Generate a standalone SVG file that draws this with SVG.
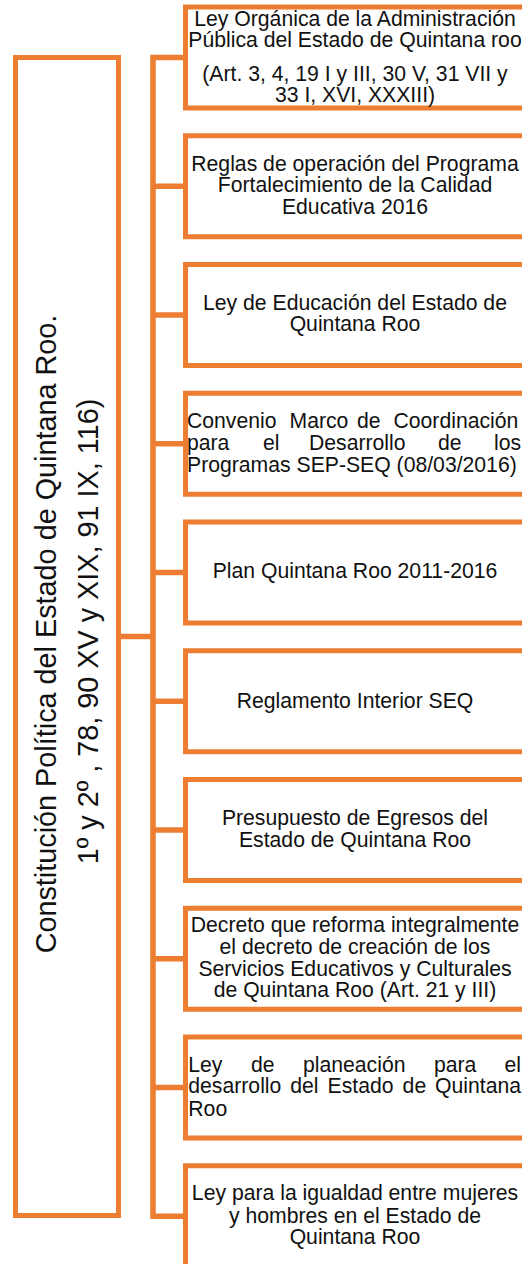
<svg xmlns="http://www.w3.org/2000/svg" width="522" height="1264" viewBox="0 0 522 1264">
<style>
.box{fill:#fff;stroke:#ED7D31;stroke-width:5}
.conn{fill:none;stroke:#ED7D31;stroke-width:5.5;stroke-linejoin:miter}
.t{font-family:"Liberation Sans",Arial,sans-serif;font-size:21.2px;fill:#111}
.c{text-anchor:middle}
.big{font-family:"Liberation Sans",Arial,sans-serif;font-size:28.8px;fill:#111;text-anchor:middle}
</style>
<rect width="522" height="1264" fill="#fff"/>
<g id="connectors">
<path class="conn" d="M121 636.5H153M185 57.5H153V1216.25H185M153 186.25H185M153 315H185M153 443.75H185M153 572.5H185M153 701.25H185M153 830H185M153 958.75H185M153 1087.5H185"/>
</g>
<g id="root">
<rect class="box" x="15.5" y="57.5" width="103" height="1158"/>
<text class="big" transform="translate(55.5,634) rotate(-90)">Constitución Política del Estado de Quintana Roo.</text>
<text class="big" transform="translate(98,631.5) rotate(-90)">1º y 2º , 78, 90 XV y XIX, 91 IX, 116)</text>
</g>
<g id="n1">
<rect class="box" x="185.5" y="7" width="345" height="101"/>
<text class="t c" x="355" y="26.3">Ley Orgánica de la Administración</text>
<text class="t c" x="355" y="47.3">Pública del Estado de Quintana roo</text>
<text class="t c" x="355" y="80.5">(Art. 3, 4, 19 I y III, 30 V, 31 VII y</text>
<text class="t c" x="355" y="102">33 I, XVI, XXXIII)</text>
</g>
<g id="n2">
<rect class="box" x="185.5" y="135.75" width="345" height="101"/>
<text class="t c" x="355" y="170.7">Reglas de operación del Programa</text>
<text class="t c" x="355" y="192.3">Fortalecimiento de la Calidad</text>
<text class="t c" x="355" y="214">Educativa 2016</text>
</g>
<g id="n3">
<rect class="box" x="185.5" y="264.5" width="345" height="101"/>
<text class="t c" x="355" y="310">Ley de Educación del Estado de</text>
<text class="t c" x="355" y="331">Quintana Roo</text>
</g>
<g id="n4">
<rect class="box" x="185.5" y="393.25" width="345" height="101"/>
<text class="t" y="427.7"><tspan x="187">Convenio</tspan><tspan x="289.5">Marco</tspan><tspan x="357">de</tspan><tspan x="393.5">Coordinación</tspan></text>
<text class="t" y="450"><tspan x="187">para</tspan><tspan x="263">el</tspan><tspan x="309">Desarrollo</tspan><tspan x="438">de</tspan><tspan x="494">los</tspan></text>
<text class="t" x="187" y="471.7">Programas SEP-SEQ (08/03/2016)</text>
</g>
<g id="n5">
<rect class="box" x="185.5" y="522" width="345" height="101"/>
<text class="t c" x="355" y="578.3">Plan Quintana Roo 2011-2016</text>
</g>
<g id="n6">
<rect class="box" x="185.5" y="650.75" width="345" height="101"/>
<text class="t c" x="355" y="708.3">Reglamento Interior SEQ</text>
</g>
<g id="n7">
<rect class="box" x="185.5" y="779.5" width="345" height="101"/>
<text class="t c" x="355" y="825">Presupuesto de Egresos del</text>
<text class="t c" x="355" y="846.7">Estado de Quintana Roo</text>
</g>
<g id="n8">
<rect class="box" x="185.5" y="908.25" width="345" height="101"/>
<text class="t c" x="355" y="932">Decreto que reforma integralmente</text>
<text class="t c" x="355" y="953.7">el decreto de creación de los</text>
<text class="t c" x="355" y="975.5">Servicios Educativos y Culturales</text>
<text class="t c" x="355" y="997.3">de Quintana Roo (Art. 21 y III)</text>
</g>
<g id="n9">
<rect class="box" x="185.5" y="1037" width="345" height="101"/>
<text class="t" y="1072.3"><tspan x="188.3">Ley</tspan><tspan x="251">de</tspan><tspan x="303">planeación</tspan><tspan x="434">para</tspan><tspan x="504.5">el</tspan></text>
<text class="t" y="1093.3"><tspan x="188.3">desarrollo</tspan><tspan x="290.3">del</tspan><tspan x="327.6">Estado</tspan><tspan x="402.6">de</tspan><tspan x="435">Quintana</tspan></text>
<text class="t" x="188.3" y="1115.7">Roo</text>
</g>
<g id="n10">
<rect class="box" x="185.5" y="1165.75" width="345" height="101"/>
<text class="t c" x="355" y="1200">Ley para la igualdad entre mujeres</text>
<text class="t c" x="355" y="1222.7">y hombres en el Estado de</text>
<text class="t c" x="355" y="1244.3">Quintana Roo</text>
</g>
</svg>
